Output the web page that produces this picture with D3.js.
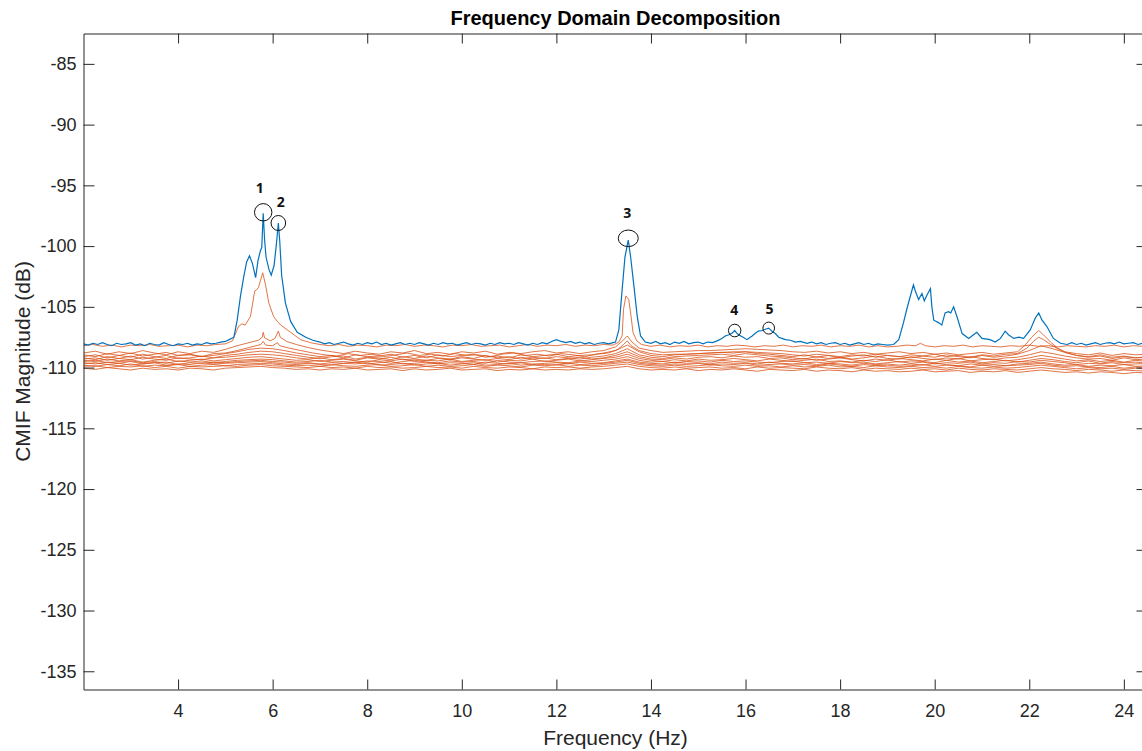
<!DOCTYPE html>
<html>
<head>
<meta charset="utf-8">
<script src="https://cdn.jsdelivr.net/npm/d3@7"></script>
<style>
  body { margin: 0; background: #fff; }
  svg { display: block; }
</style>
</head>
<body>
<div id="chart"></div>
<script>
// Axis ranges and ticks
const freqRange = [2, 24.5]
const magRange = [-136.5, -82.5]
const freqTicks = [4, 6, 8, 10, 12, 14, 16, 18, 20, 22, 24]
const magTicks = [-135, -130, -125, -120, -115, -110, -105, -100, -95, -90, -85]

// First singular value (blue), [Hz, dB]
const sv1 = [
  [2.0,-108.05],[2.1,-108.15],[2.2,-108.0],[2.3,-108.1],[2.4,-107.95],[2.5,-108.1],[2.6,-108.2],[2.7,-108.0],
  [2.8,-108.1],[2.9,-108.05],[3.0,-107.95],[3.1,-108.15],[3.2,-108.05],[3.3,-108.2],[3.4,-108.0],[3.5,-108.1],
  [3.6,-108.15],[3.7,-107.95],[3.8,-108.1],[3.9,-108.2],[4.0,-108.05],[4.1,-108.1],[4.2,-108.0],[4.3,-108.15],
  [4.4,-108.05],[4.5,-108.1],[4.6,-107.95],[4.7,-108.05],[4.8,-108.0],[4.9,-107.9],[5.0,-107.85],[5.08,-107.7],
  [5.18,-107.5],[5.25,-106.1],[5.32,-104.1],[5.39,-102.5],[5.45,-101.3],[5.51,-100.8],[5.57,-101.4],[5.64,-102.6],
  [5.69,-101.2],[5.74,-100.4],[5.77,-100.1],[5.80,-97.3],[5.83,-99.5],[5.86,-100.9],[5.92,-101.9],[5.97,-102.4],
  [6.03,-101.6],[6.08,-99.8],[6.12,-98.1],[6.15,-99.6],[6.19,-102.4],[6.27,-104.7],[6.38,-106.2],[6.52,-107.1],
  [6.7,-107.5],[6.85,-107.75],[7.0,-107.9],[7.1,-108.05],[7.2,-107.95],[7.3,-108.1],[7.4,-108.0],[7.5,-107.9],
  [7.6,-108.05],[7.7,-108.15],[7.8,-108.0],[7.9,-108.1],[8.0,-107.95],[8.1,-108.05],[8.2,-107.9],[8.3,-108.1],
  [8.4,-108.0],[8.5,-108.15],[8.6,-108.05],[8.7,-107.95],[8.8,-108.1],[8.9,-108.0],[9.0,-108.1],[9.1,-107.95],
  [9.2,-108.05],[9.3,-108.15],[9.4,-108.0],[9.5,-108.1],[9.6,-107.95],[9.7,-108.05],[9.8,-108.0],[9.9,-108.15],
  [10.0,-108.05],[10.1,-107.95],[10.2,-108.1],[10.3,-108.0],[10.4,-108.05],[10.5,-108.15],[10.6,-108.0],[10.7,-108.1],
  [10.8,-107.95],[10.9,-108.05],[11.0,-108.0],[11.1,-108.1],[11.2,-107.95],[11.3,-108.05],[11.4,-108.15],[11.5,-108.0],
  [11.6,-108.1],[11.7,-107.95],[11.8,-108.05],[11.9,-107.85],[12.0,-107.7],[12.1,-107.85],[12.2,-107.95],[12.3,-107.85],
  [12.4,-108.0],[12.5,-107.9],[12.6,-108.05],[12.7,-107.95],[12.8,-108.1],[12.9,-108.0],[13.0,-107.95],[13.1,-108.05],
  [13.2,-107.95],[13.25,-107.9],[13.32,-106.9],[13.39,-103.6],[13.45,-100.9],[13.52,-99.5],[13.57,-100.9],[13.64,-103.3],
  [13.71,-105.8],[13.78,-107.4],[13.88,-107.9],[14.0,-108.0],[14.1,-107.85],[14.2,-108.05],[14.3,-107.95],[14.4,-108.1],
  [14.5,-107.9],[14.6,-108.0],[14.7,-107.85],[14.8,-108.05],[14.9,-107.95],[15.0,-107.9],[15.1,-108.05],[15.2,-107.9],
  [15.3,-107.95],[15.4,-107.8],[15.5,-107.6],[15.57,-107.4],[15.65,-107.3],[15.72,-107.15],[15.77,-106.95],[15.81,-107.15],
  [15.85,-107.3],[15.95,-107.5],[16.03,-107.7],[16.1,-107.5],[16.14,-107.4],[16.2,-107.2],[16.27,-107.0],[16.35,-106.95],
  [16.42,-106.85],[16.49,-106.75],[16.53,-106.9],[16.57,-107.05],[16.63,-107.2],[16.7,-107.5],[16.77,-107.6],[16.84,-107.7],
  [16.95,-107.75],[17.05,-107.9],[17.16,-107.85],[17.3,-108.0],[17.4,-107.9],[17.5,-108.05],[17.6,-107.95],[17.7,-108.1],
  [17.8,-108.0],[17.9,-107.95],[18.0,-108.1],[18.1,-108.0],[18.2,-108.15],[18.3,-108.05],[18.4,-107.95],[18.5,-108.1],
  [18.6,-108.0],[18.7,-108.15],[18.8,-108.05],[18.9,-108.1],[19.0,-108.15],[19.13,-108.1],[19.24,-107.7],[19.34,-106.3],
  [19.41,-105.2],[19.50,-103.9],[19.55,-103.2],[19.59,-103.7],[19.66,-104.4],[19.73,-103.9],[19.78,-104.5],[19.84,-104.0],
  [19.91,-103.5],[19.94,-105.0],[19.98,-106.1],[20.08,-106.3],[20.15,-106.5],[20.22,-105.5],[20.29,-105.4],[20.34,-105.5],
  [20.40,-105.0],[20.47,-105.8],[20.58,-107.2],[20.72,-107.6],[20.82,-107.3],[20.89,-107.1],[21.0,-107.6],[21.17,-107.7],
  [21.28,-107.9],[21.39,-107.6],[21.49,-107.0],[21.56,-107.3],[21.67,-107.6],[21.78,-107.5],[21.88,-107.6],[22.02,-106.9],
  [22.13,-105.9],[22.20,-105.5],[22.27,-106.1],[22.37,-106.6],[22.51,-107.6],[22.66,-108.0],[22.8,-108.1],[22.9,-107.95],
  [23.0,-108.1],[23.1,-108.0],[23.2,-108.15],[23.3,-108.05],[23.4,-107.95],[23.5,-108.1],[23.6,-108.0],[23.7,-107.95],
  [23.8,-108.05],[23.9,-107.9],[24.0,-108.05],[24.1,-108.0],[24.2,-107.95],[24.3,-108.1],[24.4,-108.0],[24.5,-108.05]
]

// Second singular value, [Hz, dB]
const sv2 = [
  [2.0,-108.2],[2.2,-108.1],[2.4,-108.25],[2.6,-108.15],[2.8,-108.3],[3.0,-108.15],[3.2,-108.2],[3.4,-108.1],
  [3.6,-108.25],[3.8,-108.2],[4.0,-108.15],[4.2,-108.3],[4.4,-108.15],[4.6,-108.2],[4.8,-108.1],[5.0,-108.05],
  [5.15,-107.8],[5.28,-106.6],[5.35,-106.4],[5.42,-106.5],[5.53,-105.8],[5.62,-103.7],[5.66,-103.6],[5.70,-103.4],
  [5.79,-102.2],[5.85,-103.2],[5.92,-104.7],[6.02,-105.8],[6.1,-106.2],[6.17,-106.5],[6.38,-107.1],[6.59,-107.7],
  [6.8,-107.95],[7.0,-108.1],[7.2,-108.2],[7.4,-108.1],[7.6,-108.25],[7.8,-108.15],[8.0,-108.2],[8.2,-108.3],
  [8.4,-108.15],[8.6,-108.2],[8.8,-108.1],[9.0,-108.25],[9.2,-108.15],[9.4,-108.2],[9.6,-108.3],[9.8,-108.15],
  [10.0,-108.2],[10.2,-108.1],[10.4,-108.25],[10.6,-108.2],[10.8,-108.15],[11.0,-108.3],[11.2,-108.2],[11.4,-108.1],
  [11.6,-108.25],[11.8,-108.15],[12.0,-108.2],[12.2,-108.1],[12.4,-108.25],[12.6,-108.15],[12.8,-108.2],[13.0,-108.1],
  [13.2,-108.15],[13.32,-107.9],[13.39,-107.4],[13.42,-105.2],[13.47,-104.1],[13.53,-104.4],[13.58,-105.8],[13.62,-107.1],
  [13.7,-107.8],[13.8,-108.1],[14.0,-108.25],[14.2,-108.15],[14.4,-108.3],[14.6,-108.2],[14.8,-108.25],[15.0,-108.15],
  [15.2,-108.3],[15.4,-108.2],[15.6,-108.25],[15.8,-108.15],[16.0,-108.2],[16.2,-108.3],[16.4,-108.2],[16.6,-108.25],
  [16.8,-108.15],[17.0,-108.3],[17.2,-108.2],[17.4,-108.25],[17.6,-108.15],[17.8,-108.3],[18.0,-108.2],[18.2,-108.25],
  [18.4,-108.15],[18.6,-108.3],[18.8,-108.2],[19.0,-108.3],[19.2,-108.25],[19.4,-108.15],[19.6,-108.2],[19.7,-108.0],
  [19.8,-108.2],[20.0,-108.3],[20.2,-108.2],[20.4,-108.25],[20.6,-108.15],[20.8,-108.3],[21.0,-108.2],[21.2,-108.25],
  [21.4,-108.3],[21.6,-108.2],[21.8,-108.25],[22.0,-108.15],[22.2,-108.25],[22.4,-108.2],[22.6,-108.3],[22.8,-108.2],
  [23.0,-108.25],[23.2,-108.3],[23.4,-108.2],[23.6,-108.25],[23.8,-108.15],[24.0,-108.3],[24.2,-108.2],[24.4,-108.25],
  [24.5,-108.2]
]

// Third and fourth singular values, [Hz, dB]
const sv3 = [
  [2.0,-108.8],[2.25,-108.65],[2.5,-108.9],[2.75,-108.7],[3.0,-108.85],[3.25,-108.6],[3.5,-108.8],[3.75,-108.95],
  [4.0,-108.7],[4.25,-108.85],[4.5,-108.65],[4.75,-108.75],[5.0,-108.5],[5.25,-108.2],[5.5,-107.95],[5.7,-107.75],
  [5.78,-107.5],[5.8,-107.1],[5.83,-107.55],[5.95,-107.8],[6.05,-107.6],[6.12,-107.0],[6.16,-107.5],[6.3,-107.85],
  [6.5,-108.1],[6.75,-108.35],[7.0,-108.55],[7.25,-108.7],[7.5,-108.85],[7.75,-108.65],[8.0,-108.8],[8.25,-108.9],
  [8.5,-108.7],[8.75,-108.8],[9.0,-108.6],[9.25,-108.85],[9.5,-108.75],[9.75,-108.9],[10.0,-108.7],[10.25,-108.8],
  [10.5,-108.65],[10.75,-108.9],[11.0,-108.75],[11.25,-108.85],[11.5,-108.7],[11.75,-108.6],[12.0,-108.8],[12.25,-108.7],
  [12.5,-108.85],[12.75,-108.7],[13.0,-108.6],[13.25,-108.3],[13.4,-107.8],[13.5,-107.4],[13.6,-107.9],[13.75,-108.4],
  [14.0,-108.6],[14.25,-108.75],[14.5,-108.7],[14.75,-108.65],[15.0,-108.6],[15.25,-108.6],[15.5,-108.55],[15.75,-108.5],
  [16.0,-108.45],[16.25,-108.5],[16.5,-108.55],[16.75,-108.6],[17.0,-108.7],[17.25,-108.75],[17.5,-108.65],[17.75,-108.8],
  [18.0,-108.7],[18.25,-108.85],[18.5,-108.75],[18.75,-108.9],[19.0,-108.8],[19.25,-108.7],[19.5,-108.85],[19.75,-108.75],
  [20.0,-108.9],[20.25,-108.8],[20.5,-108.95],[20.75,-108.85],[21.0,-108.75],[21.25,-108.9],[21.5,-108.8],[21.75,-108.7],
  [21.9,-108.2],[22.05,-107.5],[22.2,-106.95],[22.3,-107.3],[22.45,-107.9],[22.6,-108.4],[22.75,-108.7],[23.0,-108.85],
  [23.25,-108.95],[23.5,-108.8],[23.75,-109.0],[24.0,-108.85],[24.25,-108.95],[24.5,-108.9]
]

const sv4 = [
  [2.0,-108.95],[2.25,-109.1],[2.5,-108.85],[2.75,-109.0],[3.0,-108.8],[3.25,-109.05],[3.5,-108.9],[3.75,-108.75],
  [4.0,-109.0],[4.25,-108.9],[4.5,-109.1],[4.75,-108.85],[5.0,-108.8],[5.25,-108.6],[5.5,-108.35],[5.75,-108.1],
  [5.8,-107.85],[5.85,-108.15],[6.0,-108.2],[6.1,-107.95],[6.15,-108.2],[6.35,-108.4],[6.6,-108.6],[6.85,-108.8],
  [7.1,-108.95],[7.35,-109.05],[7.6,-108.85],[7.85,-109.0],[8.1,-108.9],[8.35,-109.1],[8.6,-108.95],[8.85,-108.8],
  [9.1,-109.0],[9.35,-108.9],[9.6,-109.05],[9.85,-108.85],[10.1,-109.0],[10.35,-108.95],[10.6,-109.1],[10.85,-108.9],
  [11.1,-108.8],[11.35,-109.0],[11.6,-108.9],[11.85,-109.05],[12.1,-108.85],[12.35,-108.95],[12.6,-109.1],[12.85,-108.9],
  [13.1,-108.8],[13.3,-108.5],[13.42,-108.1],[13.5,-107.8],[13.58,-108.2],[13.75,-108.6],[14.0,-108.85],[14.25,-108.95],
  [14.5,-108.9],[14.75,-108.9],[15.0,-108.85],[15.25,-108.8],[15.5,-108.75],[15.75,-108.7],[16.0,-108.7],[16.25,-108.75],
  [16.5,-108.8],[16.75,-108.85],[17.0,-108.95],[17.25,-109.05],[17.5,-108.9],[17.75,-109.0],[18.0,-109.1],[18.25,-108.95],
  [18.5,-109.05],[18.75,-108.9],[19.0,-109.0],[19.25,-109.1],[19.5,-108.95],[19.75,-109.05],[20.0,-108.9],[20.25,-109.1],
  [20.5,-109.0],[20.75,-109.15],[21.0,-108.95],[21.25,-109.05],[21.5,-108.9],[21.75,-108.85],[21.95,-108.4],[22.1,-107.8],
  [22.2,-107.5],[22.3,-107.7],[22.45,-108.1],[22.6,-108.45],[22.8,-108.8],[23.0,-109.0],[23.25,-109.1],[23.5,-108.95],
  [23.75,-109.15],[24.0,-109.05],[24.25,-109.2],[24.5,-109.1]
]

// Remaining singular values, all sampled on one frequency grid
const bandFreqs = [
  2, 2.25, 2.5, 2.75, 3, 3.25, 3.5, 3.75, 4, 4.25, 4.5, 4.75, 5, 5.25, 5.5, 5.75, 6, 6.25, 6.5, 6.75,
  7, 7.25, 7.5, 7.75, 8, 8.25, 8.5, 8.75, 9, 9.25, 9.5, 9.75, 10, 10.25, 10.5, 10.75, 11, 11.25, 11.5, 11.75,
  12, 12.25, 12.5, 12.75, 13, 13.25, 13.5, 13.75, 14, 14.25, 14.5, 14.75, 15, 15.25, 15.5, 15.75, 16, 16.25, 16.5, 16.75,
  17, 17.25, 17.5, 17.75, 18, 18.25, 18.5, 18.75, 19, 19.25, 19.5, 19.75, 20, 20.25, 20.5, 20.75, 21, 21.25, 21.5, 21.75,
  22, 22.25, 22.5, 22.75, 23, 23.25, 23.5, 23.75, 24, 24.25, 24.5
]

const sv5 = [
  -109.1,-108.95,-109.2,-109.0,-109.15,-108.9,-109.1,-109.25,-109.0,-108.95,
  -109.1,-109.0,-108.85,-108.7,-108.5,-108.4,-108.45,-108.6,-108.8,-108.95,
  -109.1,-109.0,-109.2,-108.95,-109.1,-109.05,-108.9,-109.15,-109.0,-109.2,
  -108.95,-109.1,-109.0,-108.9,-109.15,-109.05,-109.2,-108.95,-109.1,-109.0,
  -108.9,-109.1,-109.0,-108.95,-108.8,-108.6,-108.15,-108.7,-109.0,-109.1,
  -108.95,-108.9,-108.85,-108.8,-108.75,-108.8,-108.7,-108.85,-108.9,-109.0,
  -109.1,-108.95,-109.15,-109.0,-109.2,-109.05,-108.95,-109.15,-109.0,-109.1,
  -109.2,-109.05,-109.15,-108.95,-109.1,-109.2,-109.0,-109.15,-109.05,-108.9,
  -108.6,-108.2,-108.45,-108.75,-109.0,-109.15,-109.05,-109.25,-109.1,-109.2,
  -109.15
]
const sv6 = [
  -109.2,-109.35,-109.1,-109.25,-109.05,-109.3,-109.15,-109.0,-109.25,-109.2,
  -109.05,-109.2,-109.0,-108.9,-108.75,-108.65,-108.7,-108.85,-109.0,-109.15,
  -109.25,-109.1,-109.05,-109.3,-109.15,-109.2,-109.35,-109.1,-109.25,-109.05,
  -109.2,-109.3,-109.1,-109.25,-109.0,-109.2,-109.1,-109.3,-109.15,-109.25,
  -109.1,-109.2,-109.3,-109.15,-109.05,-108.85,-108.45,-108.95,-109.15,-109.25,
  -109.1,-109.05,-109.0,-108.95,-108.9,-109.0,-108.85,-108.95,-109.05,-109.1,
  -109.2,-109.3,-109.1,-109.25,-109.15,-109.3,-109.2,-109.05,-109.25,-109.3,
  -109.1,-109.25,-109.35,-109.2,-109.3,-109.1,-109.25,-109.35,-109.2,-109.15,
  -108.95,-108.7,-108.85,-109.05,-109.2,-109.3,-109.25,-109.4,-109.2,-109.35,
  -109.3
]
const sv7 = [
  -109.3,-109.2,-109.4,-109.25,-109.35,-109.15,-109.3,-109.4,-109.2,-109.3,
  -109.35,-109.2,-109.15,-109.05,-108.95,-108.9,-108.95,-109.05,-109.2,-109.3,
  -109.2,-109.35,-109.25,-109.4,-109.2,-109.3,-109.15,-109.35,-109.3,-109.4,
  -109.25,-109.35,-109.2,-109.3,-109.4,-109.25,-109.35,-109.15,-109.3,-109.2,
  -109.35,-109.25,-109.15,-109.3,-109.2,-109.0,-108.7,-109.1,-109.3,-109.35,
  -109.2,-109.3,-109.15,-109.1,-109.2,-109.05,-109.15,-109.1,-109.25,-109.2,
  -109.35,-109.25,-109.4,-109.3,-109.2,-109.35,-109.45,-109.3,-109.4,-109.25,
  -109.35,-109.45,-109.3,-109.4,-109.25,-109.45,-109.35,-109.3,-109.45,-109.35,
  -109.2,-109.0,-109.15,-109.3,-109.45,-109.35,-109.5,-109.4,-109.55,-109.4,
  -109.5
]
const sv8 = [
  -109.4,-109.5,-109.3,-109.45,-109.35,-109.55,-109.4,-109.3,-109.5,-109.4,
  -109.3,-109.45,-109.35,-109.25,-109.15,-109.1,-109.2,-109.3,-109.4,-109.35,
  -109.5,-109.4,-109.3,-109.45,-109.55,-109.35,-109.45,-109.3,-109.5,-109.4,
  -109.45,-109.3,-109.5,-109.4,-109.35,-109.55,-109.4,-109.45,-109.3,-109.5,
  -109.4,-109.3,-109.45,-109.35,-109.25,-109.15,-108.9,-109.25,-109.4,-109.5,
  -109.35,-109.45,-109.3,-109.4,-109.35,-109.25,-109.35,-109.45,-109.3,-109.4,
  -109.5,-109.4,-109.3,-109.5,-109.45,-109.55,-109.4,-109.5,-109.35,-109.55,
  -109.45,-109.5,-109.6,-109.4,-109.55,-109.45,-109.6,-109.5,-109.4,-109.55,
  -109.4,-109.25,-109.35,-109.5,-109.6,-109.45,-109.65,-109.5,-109.6,-109.55,
  -109.65
]
const sv9 = [
  -109.5,-109.4,-109.6,-109.5,-109.45,-109.6,-109.5,-109.65,-109.45,-109.55,
  -109.45,-109.6,-109.5,-109.4,-109.35,-109.3,-109.35,-109.45,-109.55,-109.5,
  -109.4,-109.55,-109.5,-109.6,-109.45,-109.5,-109.65,-109.5,-109.4,-109.55,
  -109.6,-109.45,-109.55,-109.5,-109.65,-109.4,-109.55,-109.6,-109.5,-109.45,
  -109.55,-109.6,-109.45,-109.5,-109.4,-109.3,-109.1,-109.4,-109.55,-109.5,
  -109.6,-109.5,-109.45,-109.55,-109.4,-109.5,-109.45,-109.55,-109.6,-109.5,
  -109.45,-109.6,-109.55,-109.65,-109.5,-109.6,-109.55,-109.7,-109.6,-109.5,
  -109.65,-109.55,-109.7,-109.6,-109.65,-109.55,-109.7,-109.6,-109.65,-109.5,
  -109.55,-109.4,-109.5,-109.6,-109.75,-109.65,-109.7,-109.6,-109.75,-109.7,
  -109.65
]
const sv10 = [
  -109.6,-109.7,-109.55,-109.65,-109.5,-109.7,-109.6,-109.55,-109.75,-109.6,
  -109.65,-109.55,-109.6,-109.5,-109.45,-109.4,-109.5,-109.55,-109.65,-109.6,
  -109.7,-109.6,-109.65,-109.55,-109.7,-109.6,-109.5,-109.7,-109.65,-109.55,
  -109.7,-109.6,-109.65,-109.75,-109.55,-109.65,-109.7,-109.6,-109.75,-109.65,
  -109.6,-109.7,-109.55,-109.65,-109.6,-109.45,-109.3,-109.55,-109.65,-109.7,
  -109.55,-109.65,-109.6,-109.7,-109.55,-109.65,-109.6,-109.7,-109.55,-109.65,
  -109.7,-109.6,-109.75,-109.65,-109.7,-109.8,-109.65,-109.75,-109.7,-109.8,
  -109.7,-109.8,-109.65,-109.75,-109.85,-109.7,-109.8,-109.75,-109.85,-109.7,
  -109.65,-109.55,-109.7,-109.8,-109.75,-109.9,-109.8,-109.85,-109.75,-109.9,
  -109.85
]
const sv11 = [
  -109.7,-109.6,-109.75,-109.65,-109.8,-109.7,-109.6,-109.8,-109.7,-109.75,
  -109.6,-109.7,-109.65,-109.6,-109.55,-109.5,-109.6,-109.7,-109.75,-109.65,
  -109.75,-109.8,-109.65,-109.7,-109.6,-109.8,-109.75,-109.65,-109.8,-109.7,
  -109.65,-109.8,-109.7,-109.6,-109.8,-109.75,-109.65,-109.8,-109.7,-109.75,
  -109.8,-109.65,-109.75,-109.7,-109.65,-109.55,-109.4,-109.65,-109.75,-109.8,
  -109.7,-109.75,-109.65,-109.8,-109.7,-109.75,-109.65,-109.8,-109.75,-109.7,
  -109.8,-109.75,-109.85,-109.7,-109.8,-109.9,-109.75,-109.85,-109.8,-109.9,
  -109.85,-109.75,-109.9,-109.8,-109.85,-109.95,-109.8,-109.9,-109.85,-109.8,
  -109.75,-109.65,-109.8,-109.9,-109.85,-109.95,-110.0,-109.9,-110.05,-109.95,
  -110.0
]
const sv12 = [
  -109.8,-109.9,-109.75,-109.85,-109.7,-109.9,-109.8,-109.85,-109.75,-109.9,
  -109.8,-109.75,-109.85,-109.75,-109.7,-109.65,-109.7,-109.8,-109.85,-109.8,
  -109.9,-109.75,-109.85,-109.9,-109.8,-109.75,-109.9,-109.85,-109.75,-109.9,
  -109.8,-109.9,-109.85,-109.75,-109.9,-109.8,-109.85,-109.95,-109.8,-109.85,
  -109.75,-109.9,-109.8,-109.85,-109.75,-109.65,-109.55,-109.75,-109.85,-109.9,
  -109.8,-109.9,-109.85,-109.75,-109.85,-109.9,-109.8,-109.9,-109.85,-109.95,
  -109.85,-109.95,-109.9,-109.8,-109.95,-109.9,-110.0,-109.85,-109.95,-110.0,
  -109.9,-110.0,-109.95,-110.05,-109.9,-110.0,-110.05,-109.95,-110.05,-110.0,
  -109.9,-109.8,-109.9,-110.0,-110.1,-110.0,-110.1,-110.05,-110.15,-110.05,
  -110.1
]
const sv13 = [
  -109.9,-109.85,-110.0,-109.9,-109.95,-109.85,-110.0,-109.9,-110.05,-109.9,
  -109.95,-109.9,-109.85,-109.9,-109.8,-109.75,-109.85,-109.9,-109.95,-110.0,
  -109.9,-110.0,-109.95,-110.05,-109.9,-110.0,-109.95,-110.05,-110.0,-109.9,
  -110.0,-109.95,-110.05,-109.9,-110.0,-110.05,-109.95,-110.0,-110.1,-109.95,
  -110.0,-109.95,-110.05,-109.95,-109.9,-109.8,-109.7,-109.9,-110.0,-110.05,
  -109.95,-110.05,-110.0,-109.95,-110.05,-110.0,-110.1,-109.95,-110.05,-110.0,
  -110.05,-110.1,-109.95,-110.05,-110.1,-110.0,-110.15,-110.05,-110.1,-110.15,
  -110.05,-110.15,-110.1,-110.2,-110.05,-110.15,-110.2,-110.1,-110.15,-110.2,
  -110.1,-110.0,-110.1,-110.15,-110.25,-110.15,-110.2,-110.3,-110.2,-110.25,
  -110.3
]
const sv14 = [
  -110.05,-110.15,-110.0,-110.1,-110.2,-110.05,-110.15,-110.1,-110.2,-110.05,
  -110.1,-110.2,-110.05,-110.0,-109.95,-109.9,-110.0,-110.05,-110.15,-110.1,
  -110.2,-110.1,-110.15,-110.05,-110.2,-110.15,-110.1,-110.25,-110.1,-110.2,
  -110.15,-110.05,-110.2,-110.15,-110.1,-110.25,-110.15,-110.2,-110.1,-110.2,
  -110.15,-110.2,-110.1,-110.15,-110.1,-110.0,-109.9,-110.1,-110.2,-110.15,
  -110.2,-110.1,-110.25,-110.15,-110.2,-110.1,-110.2,-110.3,-110.15,-110.2,
  -110.25,-110.15,-110.3,-110.2,-110.25,-110.35,-110.2,-110.3,-110.25,-110.35,
  -110.3,-110.2,-110.35,-110.3,-110.25,-110.4,-110.3,-110.35,-110.25,-110.4,
  -110.3,-110.2,-110.3,-110.4,-110.35,-110.45,-110.35,-110.4,-110.5,-110.4,
  -110.45
]

// Picked modes
const peakLabels = ["1", "2", "3", "4", "5"]
const peakFreqs = [5.80, 6.12, 13.52, 15.77, 16.49]
const peakMags = [-97.3, -98.1, -99.5, -106.95, -106.75]

// Marker geometry per peak (pixels): circle radii and label offset
const peakMarks = [
  {rx: 8.7, ry: 8.7, cy: -1, dx: -3.5, dy: -25.6},
  {rx: 7.3, ry: 7.5, cy: 0, dx: 2.3, dy: -21.3},
  {rx: 10, ry: 8.3, cy: -1.7, dx: -0.9, dy: -27.5},
  {rx: 6.2, ry: 6.3, cy: 0, dx: -0.5, dy: -21},
  {rx: 5.8, ry: 6, cy: 0, dx: 0.9, dy: -19.6}
]

const blue = "#0072BD"
const orange = "#D95319"
const axisColor = "#262626"

class CmifPlot {
  constructor(id, {size = [1142, 751], box = {left: 83.5, right: 1147.5, top: 33.5, bottom: 689.5}} = {}) {
    this.size = size
    this.box = box
    this.nodes = {}

    this.scaleX = d3.scaleLinear().domain(freqRange).range([box.left, box.right])
    this.scaleY = d3.scaleLinear().domain(magRange).range([box.bottom, box.top])

    const svg = this.createBase()
    this.drawAxes()
    this.drawLines()
    this.drawPeaks()

    d3.select(`#${id}`).append(_ => svg.node())
  }

  createBase() {
    const svg = d3.create("svg")
      .attr("width", this.size[0])
      .attr("height", this.size[1])
      .attr("font-family", "'Liberation Sans', Arial, Helvetica, sans-serif")
    this.nodes.svg = svg

    svg.append("clipPath").attr("id", "plot-clip")
      .append("rect")
        .attr("x", this.box.left)
        .attr("y", this.box.top)
        .attr("width", this.box.right - this.box.left)
        .attr("height", this.box.bottom - this.box.top)

    this.nodes.lines = svg.append("g").attr("clip-path", "url(#plot-clip)")
    this.nodes.axes = svg.append("g")
    this.nodes.peaks = svg.append("g")
    return svg
  }

  styleAxis(g) {
    g.selectAll(".domain").attr("stroke", axisColor).attr("stroke-width", 1)
    g.selectAll(".tick line").attr("stroke", axisColor).attr("stroke-width", 1)
    g.selectAll(".tick text").attr("fill", axisColor).attr("font-size", 18)
  }

  drawAxes() {
    const axes = this.nodes.axes
    const box = this.box
    const fmt = d => String(d)

    axes.append("g")
      .attr("transform", `translate(0,${box.bottom})`)
      .call(d3.axisBottom(this.scaleX).tickValues(freqTicks).tickFormat(fmt)
        .tickSizeInner(-10).tickSizeOuter(0).tickPadding(15))
      .call(g => this.styleAxis(g))

    axes.append("g")
      .attr("transform", `translate(0,${box.top})`)
      .call(d3.axisTop(this.scaleX).tickValues(freqTicks).tickFormat("")
        .tickSizeInner(-10).tickSizeOuter(0))
      .call(g => this.styleAxis(g))

    axes.append("g")
      .attr("transform", `translate(${box.left},0)`)
      .call(d3.axisLeft(this.scaleY).tickValues(magTicks).tickFormat(fmt)
        .tickSizeInner(-11).tickSizeOuter(0).tickPadding(7))
      .call(g => this.styleAxis(g))

    axes.append("g")
      .attr("transform", `translate(${box.right},0)`)
      .call(d3.axisRight(this.scaleY).tickValues(magTicks).tickFormat("")
        .tickSizeInner(-11).tickSizeOuter(0))
      .call(g => this.styleAxis(g))

    const midX = (box.left + box.right) / 2
    const midY = (box.top + box.bottom) / 2

    this.nodes.svg.append("text")
      .attr("x", midX).attr("y", 25)
      .attr("text-anchor", "middle")
      .attr("font-weight", "bold")
      .attr("font-size", 20)
      .attr("fill", "#000")
      .text("Frequency Domain Decomposition")

    this.nodes.svg.append("text")
      .attr("x", midX).attr("y", 745)
      .attr("text-anchor", "middle")
      .attr("font-size", 21)
      .attr("fill", axisColor)
      .text("Frequency (Hz)")

    this.nodes.svg.append("text")
      .attr("transform", `translate(30,${midY}) rotate(-90)`)
      .attr("text-anchor", "middle")
      .attr("font-size", 21)
      .attr("fill", axisColor)
      .text("CMIF Magnitude (dB)")
  }

  drawLines() {
    const line = d3.line()
      .x(d => this.scaleX(d[0]))
      .y(d => this.scaleY(d[1]))

    const band = [sv14, sv13, sv12, sv11, sv10, sv9, sv8, sv7, sv6, sv5]
      .map(vals => vals.map((v, i) => [bandFreqs[i], v]))
    const orangeSeries = [...band, sv4, sv3, sv2]

    this.nodes.lines.selectAll(".sv-orange")
      .data(orangeSeries)
      .join("path")
        .attr("class", "sv-orange")
        .attr("d", line)
        .attr("fill", "none")
        .attr("stroke", orange)
        .attr("stroke-width", 1)
        .attr("stroke-opacity", 0.8)

    this.nodes.lines.append("path")
      .datum(sv1)
      .attr("d", line)
      .attr("fill", "none")
      .attr("stroke", blue)
      .attr("stroke-width", 1.2)
  }

  drawPeaks() {
    const peaks = peakLabels.map((label, i) => ({
      label, f: peakFreqs[i], v: peakMags[i], mark: peakMarks[i]
    }))

    const g = this.nodes.peaks.selectAll("g")
      .data(peaks)
      .join("g")
        .attr("transform", d => `translate(${this.scaleX(d.f)},${this.scaleY(d.v)})`)

    g.append("ellipse")
      .attr("cx", 0)
      .attr("cy", d => d.mark.cy)
      .attr("rx", d => d.mark.rx)
      .attr("ry", d => d.mark.ry)
      .attr("fill", "none")
      .attr("stroke", "#111")
      .attr("stroke-width", 1)

    g.append("text")
      .attr("x", d => d.mark.dx)
      .attr("y", d => d.mark.dy)
      .attr("dy", "0.36em")
      .attr("text-anchor", "middle")
      .attr("font-family", "'Open Sans', 'Noto Sans', sans-serif")
      .attr("font-weight", "bold")
      .attr("font-size", 14)
      .attr("fill", "#111")
      .text(d => d.label)
  }
}

new CmifPlot("chart")
</script>
</body>
</html>
